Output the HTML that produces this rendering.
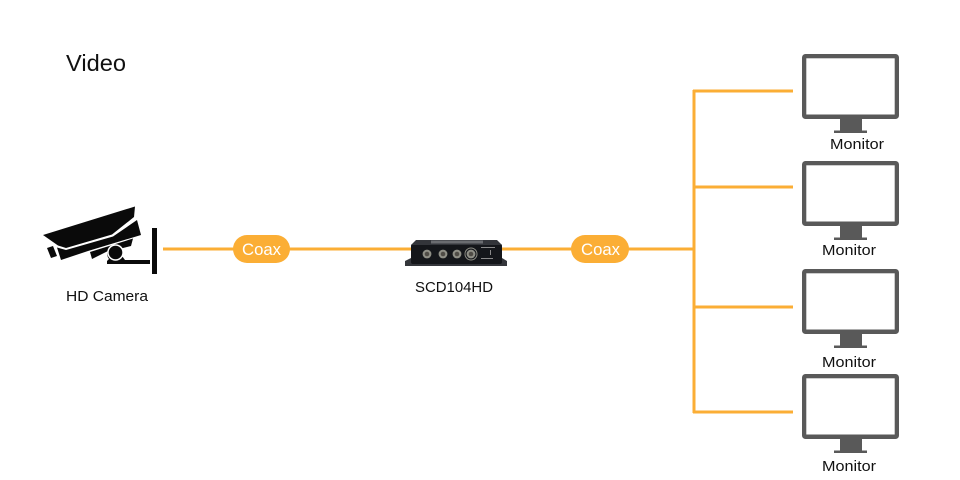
<!DOCTYPE html>
<html><head><meta charset="utf-8"><style>
html,body{margin:0;padding:0;background:#fff}
svg{display:block}
text{font-family:"Liberation Sans",sans-serif;fill:#111}
</style></head><body>
<svg width="960" height="480" viewBox="0 0 960 480" xmlns="http://www.w3.org/2000/svg">
<defs>
<g id="mon">
<rect x="802" y="54" width="97" height="65" rx="3.500" fill="#595959"/>
<rect x="806.300" y="58.300" width="88.400" height="56.200" fill="#fff"/>
<rect x="840" y="119" width="22" height="12" fill="#595959"/>
<rect x="834" y="130.500" width="33" height="2.500" fill="#595959"/>
</g>
<g id="bnc">
<circle r="4.400" fill="#8f8f86"/><circle r="2.300" fill="#4f4c46"/>
</g>
</defs>
<rect width="960" height="480" fill="#fff"/>
<text x="66" y="71" font-size="23.500" textLength="60" lengthAdjust="spacingAndGlyphs">Video</text>

<g stroke="#fbae35" stroke-width="3" fill="none">
<path d="M163 249H694"/>
<path d="M694 90V413"/>
<path d="M693 91H793M693 187H793M693 307H793M693 412H793"/>
</g>
<rect x="233" y="235" width="57" height="28" rx="14" fill="#fbae35"/>
<rect x="571" y="235" width="58" height="28" rx="14" fill="#fbae35"/>
<text x="242" y="255" font-size="17" style="fill:#fff" textLength="39" lengthAdjust="spacingAndGlyphs">Coax</text>
<text x="581" y="255" font-size="17" style="fill:#fff" textLength="39" lengthAdjust="spacingAndGlyphs">Coax</text>

<!-- camera -->
<g fill="#0a0a0a">
<path d="M43 235L135 206.500L134 217L112 234.500L66 248L58 245.500Z"/>
<path d="M137 220L141 235L88 251L61 260L57 247.500L66 250L113 236.500Z"/>
<path d="M47 248L53 246L57 256L51 258Z"/>
<path d="M90 252L133 238.500L131 246L123 248L108 251L92 259Z"/>
<path d="M107 264V261L109 259A7.500 7.500 0 1 1 122 256L125 260H150V264Z"/>
<circle cx="115.500" cy="252.500" r="8.300" fill="#fff"/>
<circle cx="115.500" cy="252.500" r="6.800"/>
<rect x="152" y="228" width="5" height="46"/>
</g>
<text x="66" y="301" font-size="14.500" textLength="82" lengthAdjust="spacingAndGlyphs">HD Camera</text>

<!-- device -->
<path d="M405 266V261L411 258H502L507 261V266Z" fill="#34363b"/>
<rect x="411" y="244" width="91" height="20" rx="2" fill="#14161a"/>
<path d="M411 245L416 240H497L502 245Z" fill="#33353a"/>
<rect x="431" y="240.500" width="52" height="3" fill="#6a6c70"/>
<use href="#bnc" x="427" y="254"/>
<use href="#bnc" x="443" y="254"/>
<use href="#bnc" x="457" y="254"/>
<use href="#bnc" x="471" y="254"/>
<circle cx="471" cy="254" r="6" fill="none" stroke="#8c8c84" stroke-width="1"/>
<rect x="481" y="247" width="14" height="1" fill="#8a8a8a"/>
<rect x="481" y="258" width="12" height="1" fill="#8a8a8a"/>
<rect x="490" y="250" width="1" height="5" fill="#8a8a8a"/>
<text x="415" y="292" font-size="14.500" textLength="78" lengthAdjust="spacingAndGlyphs">SCD104HD</text>

<!-- monitors -->
<use href="#mon"/>
<use href="#mon" y="107"/>
<use href="#mon" y="215"/>
<use href="#mon" y="320"/>
<text x="830" y="149" font-size="14.500" textLength="54" lengthAdjust="spacingAndGlyphs">Monitor</text>
<text x="822" y="255" font-size="14.500" textLength="54" lengthAdjust="spacingAndGlyphs">Monitor</text>
<text x="822" y="367" font-size="14.500" textLength="54" lengthAdjust="spacingAndGlyphs">Monitor</text>
<text x="822" y="471" font-size="14.500" textLength="54" lengthAdjust="spacingAndGlyphs">Monitor</text>
</svg>
</body></html>
